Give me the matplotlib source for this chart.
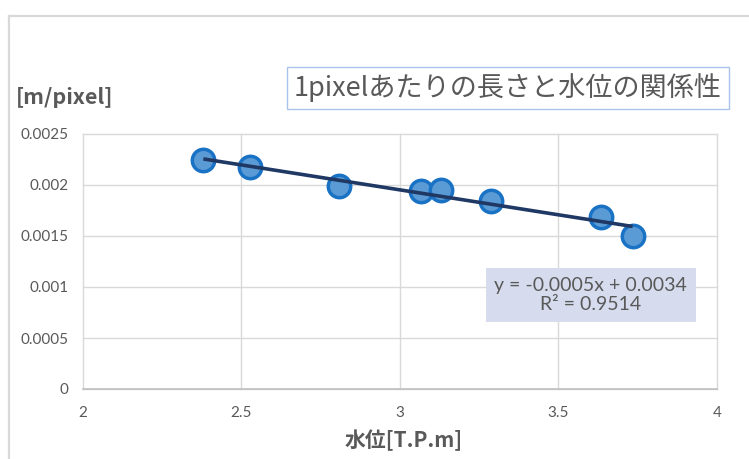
import numpy as np
import matplotlib
matplotlib.use("Agg")
import matplotlib.pyplot as plt
from matplotlib.lines import Line2D

# Water level [T.P.m] and length per pixel [m/pixel]
water_level = [2.381, 2.527, 2.809, 3.067, 3.130, 3.289, 3.635, 3.734]
m_per_pixel = [0.002245, 0.002179, 0.001990, 0.001944, 0.001951, 0.001843, 0.001689, 0.001500]

x_ticks = [2, 2.5, 3, 3.5, 4]
x_tick_labels = ["2", "2.5", "3", "3.5", "4"]
y_ticks = [0, 0.0005, 0.001, 0.0015, 0.002, 0.0025]
y_tick_labels = ["0", "0.0005", "0.001", "0.0015", "0.002", "0.0025"]

title_text = "1pixelあたりの長さと水位の関係性"
y_label = "[m/pixel]"
x_label = "水位[T.P.m]"
equation_text = "y = -0.0005x + 0.0034\nR² = 0.9514"

jp = ["Noto Sans CJK JP", "DejaVu Sans"]
num = ["Lato", "DejaVu Sans"]
grey_text = "#595959"

fig = plt.figure(figsize=(7.49, 4.59), dpi=100)
fig.patch.set_facecolor("white")

# chart frame (left and top edges)
fig.add_artist(Line2D([9 / 749, 9 / 749], [0, 1 - 16 / 459], color="#d9d9d9", lw=1.6))
fig.add_artist(Line2D([9 / 749, 1], [1 - 16 / 459, 1 - 16 / 459], color="#d9d9d9", lw=1.6))

ax = fig.add_axes([82.5 / 749, 1 - 389 / 459, (717 - 82.5) / 749, (389 - 134) / 459])
ax.set_xlim(2, 4)
ax.set_ylim(0, 0.0025)

for s in ax.spines.values():
    s.set_visible(False)
ax.grid(True, color="#d9d9d9", lw=1.0)
ax.set_axisbelow(True)
for gl in ax.get_xgridlines() + ax.get_ygridlines():
    gl.set_clip_on(False)
ax.axhline(0, color="#bfbfbf", lw=1.2, clip_on=False, zorder=1)

ax.set_xticks(x_ticks)
ax.set_xticklabels(x_tick_labels, fontfamily=num, fontsize=11, color=grey_text)
ax.set_yticks(y_ticks)
ax.set_yticklabels(y_tick_labels, fontfamily=num, fontsize=11, color=grey_text)
ax.tick_params(length=0, pad=10)
ax.tick_params(axis="x", pad=12)

# data points
ax.scatter(water_level, m_per_pixel, s=260, facecolor="#5b9bd5", edgecolor="#1a72c4",
           linewidths=2.5, zorder=3, clip_on=False)

# linear trendline
coef = np.polyfit(water_level, m_per_pixel, 1)
xs = np.array([min(water_level), max(water_level)])
ax.plot(xs, np.polyval(coef, xs), color="#1f3864", lw=2.6, zorder=4,
        solid_capstyle="butt")

# equation box
ax.text(0.801, 0.369, equation_text, transform=ax.transAxes, ha="center", va="center",
        fontfamily=num, fontsize=14, color=grey_text, linespacing=1.2, zorder=5,
        bbox=dict(boxstyle="square,pad=0.45", facecolor="#d6dcee", edgecolor="none"))

# title box
fig.text(508 / 749, 1 - 88 / 459, title_text, ha="center", va="center",
         fontfamily=jp, fontsize=19.5, color=grey_text,
         bbox=dict(boxstyle="square,pad=0.25", facecolor="white", edgecolor="#a9c4eb", lw=1.0))

fig.text(16 / 749, 1 - 97 / 459, y_label, ha="left", va="center",
         fontfamily=jp, fontsize=15.5, fontweight="bold", color=grey_text)
fig.text(404 / 749, 1 - 440 / 459, x_label, ha="center", va="center",
         fontfamily=jp, fontsize=15, fontweight="bold", color=grey_text)

fig.savefig("out.png", dpi=100, facecolor="white")
